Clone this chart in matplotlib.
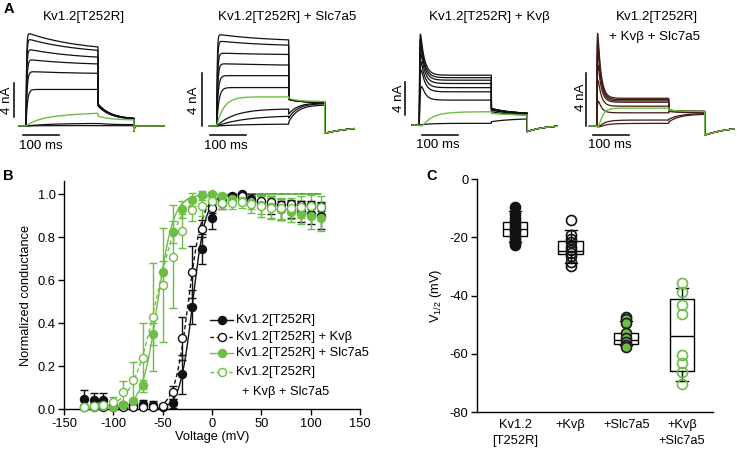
import numpy as np
import matplotlib

matplotlib.use("Agg")
import matplotlib.pyplot as plt

plt.rcParams["font.family"] = ["Liberation Sans", "DejaVu Sans"]
plt.rcParams["mathtext.default"] = "regular"
plt.rcParams["axes.linewidth"] = 1.0
plt.rcParams["axes.unicode_minus"] = False

W, H = 737, 449
BLACK = "#111111"
GREEN = "#6DBE45"
BROWN = "#3e1a13"

# ---------------- panel A: current traces (nA), protocol 200 ms step + 100 ms tail
PULSE = 200.0
TAIL = 100.0

TITLES_A = ["Kv1.2[T252R]", "Kv1.2[T252R] + Slc7a5", "Kv1.2[T252R] + Kv\u03b2", "Kv1.2[T252R]\n+ Kv\u03b2 + Slc7a5"]

# Kv1.2[T252R]
PEAK1 = [10.9, 10.2, 9.0, 7.8, 6.4, 4.3, 1.1, 0.25, 0.05]
END1 = [9.3, 8.9, 8.1, 7.3, 6.2, 4.3, 1.5, 0.3, 0.05]
ACT1 = [1.5, 1.8, 2.0, 2.5, 3.0, 4.0, 25, 40, 40]
TAIL0_1 = [2.6, 2.6, 2.55, 2.5, 2.45, 2.35, 1.15, 0.3, 0.05]
TAIL1_1 = [0.8, 0.8, 0.8, 0.78, 0.76, 0.74, 0.7, 0.15, 0.03]

# + Slc7a5
PEAK2 = [6.9, 6.4, 5.5, 4.7, 3.8, 2.9, 2.2, 1.3, 0.8, 0.15]
END2 = [6.5, 6.1, 5.4, 4.6, 3.8, 2.9, 2.2, 1.3, 0.8, 0.15]
ACT2 = [1.5, 2.0, 2.5, 3.0, 4.0, 6.0, 20, 50, 80, 80]
TAIL0_2 = [2.05, 2.05, 2.05, 2.05, 2.0, 2.0, 2.1, 0.9, 0.6, 0.3]
TAIL1_2 = [1.8, 1.8, 1.8, 1.8, 1.8, 1.8, 1.85, 1.75, 1.7, 1.6]

# + Kvbeta
PEAK3 = [11.3, 10.6, 9.8, 9.0, 8.0, 7.0, 5.0, 1.2, 0.2]
END3 = [6.0, 5.7, 5.4, 5.0, 4.5, 4.0, 3.0, 1.6, 0.2]
ACT3 = [1.0, 1.0, 1.2, 1.3, 1.5, 1.8, 2.5, 35, 30]
TAIL0_3 = [2.0, 2.0, 1.95, 1.9, 1.85, 1.8, 1.6, 1.4, 0.4]
TAIL1_3 = [1.3, 1.3, 1.3, 1.3, 1.25, 1.2, 1.1, 1.15, 0.8]

# + Kvbeta + Slc7a5
PEAK4 = [7.2, 6.6, 5.8, 4.8, 3.6, 2.0, 0.8, 0.3, 0.1]
END4 = [2.1, 2.0, 1.9, 1.8, 1.5, 1.0, 1.35, 0.45, 0.2]
ACT4 = [1.0, 1.0, 1.2, 1.3, 1.5, 2.0, 10, 20, 30]
TAIL0_4 = [1.2, 1.2, 1.2, 1.2, 1.15, 1.1, 1.2, 0.5, 0.3]
TAIL1_4 = [1.1, 1.1, 1.1, 1.1, 1.05, 1.0, 1.1, 0.95, 0.9]

GREEN_SWEEP = [6, 6, 7, 6]
TAU_DEC = [150, 150, 11, 9]
TAU_TAIL = [35, 25, 60, 30]
AFTER = [-0.6, -0.55, -0.8, -0.7]
TAU_AFTER = [1.5, 80, 50, 70]

# ---------------- panel B: G-V
VOLT = [-130, -120, -110, -100, -90, -80, -70, -60, -50, -40, -30, -20, -10,
        0, 10, 20, 30, 40, 50, 60, 70, 80, 90, 100, 110]
G_WT = [0.05, 0.045, 0.045, 0.02, 0.02, 0.02, 0.025, 0.02, 0.01, 0.028, 0.163, 0.475, 0.745,
        0.89, 0.96, 0.99, 1.0, 0.98, 0.965, 0.95, 0.93, 0.93, 0.92, 0.91, 0.90]
E_WT = [0.04, 0.03, 0.03, 0.01, 0.01, 0.01, 0.02, 0.02, 0.01, 0.02, 0.09, 0.08, 0.07,
        0.05, 0.03, 0.01, 0.01, 0.02, 0.03, 0.04, 0.05, 0.04, 0.05, 0.05, 0.06]
G_KVB = [0.01, 0.01, 0.01, 0.01, 0.01, 0.01, 0.01, 0.01, 0.015, 0.08, 0.33, 0.64, 0.84,
         0.935, 0.97, 0.985, 0.99, 0.97, 0.97, 0.965, 0.95, 0.955, 0.95, 0.95, 0.943]
E_KVB = [0.01, 0.01, 0.01, 0.01, 0.01, 0.01, 0.01, 0.01, 0.01, 0.03, 0.1, 0.12, 0.04,
         0.02, 0.02, 0.01, 0.01, 0.02, 0.02, 0.02, 0.02, 0.02, 0.02, 0.02, 0.02]
G_SLC = [0.01, 0.01, 0.015, 0.01, 0.02, 0.04, 0.115, 0.35, 0.64, 0.825, 0.93, 0.975, 0.995,
         1.0, 0.99, 0.98, 0.97, 0.96, 0.95, 0.94, 0.93, 0.92, 0.91, 0.90, 0.89]
E_SLC = [0.01, 0.01, 0.01, 0.01, 0.01, 0.01, 0.02, 0.05, 0.05, 0.05, 0.04, 0.03, 0.02,
         0.01, 0.01, 0.02, 0.02, 0.03, 0.04, 0.05, 0.05, 0.05, 0.05, 0.06, 0.06]
G_BOTH = [0.012, 0.015, 0.02, 0.035, 0.08, 0.137, 0.24, 0.43, 0.578, 0.71, 0.83, 0.927, 0.947,
          0.97, 0.96, 0.96, 0.965, 0.955, 0.945, 0.935, 0.935, 0.935, 0.94, 0.945, 0.94]
E_BOTH = [0.01, 0.01, 0.01, 0.02, 0.05, 0.085, 0.16, 0.25, 0.265, 0.24, 0.08, 0.05, 0.05,
          0.03, 0.03, 0.03, 0.03, 0.04, 0.05, 0.05, 0.05, 0.05, 0.05, 0.05, 0.05]

# Boltzmann fits: V1/2 (mV), slope k (mV), start of drawn curve (mV)
FIT_VHALF = [-19.5, -24, -55, -57]
FIT_K = [6.5, 7, 8, 12]
FIT_START = [-55, -60, -95, -115]

LEGEND_B = ["Kv1.2[T252R]", "Kv1.2[T252R] + Kv\u03b2", "Kv1.2[T252R] + Slc7a5", "Kv1.2[T252R]"]

# ---------------- panel C: V1/2 (mV)
CATS_C = ["Kv1.2\n[T252R]", "+Kv\u03b2", "+Slc7a5", "+Kv\u03b2\n+Slc7a5"]
V_WT = [-9.5, -12, -13.5, -14.5, -15.5, -16.5, -17.5, -18, -19, -20, -21, -22, -22.5]
V_KVB = [-14.1, -19.2, -20.5, -21.5, -23.2, -24.3, -25.5, -26.5, -28.5, -30]
V_SLC = [-47.2, -48, -49.5, -52.9, -54.6, -55.8, -56.9, -57.5]
V_BOTH = [-35.8, -38.6, -43.2, -46.3, -60.3, -63.2, -66.1, -70.4]
BOX_MED = [-17.3, -24.6, -55.2, -53.7]
BOX_Q1 = [-19.5, -25.8, -56.7, -65.7]
BOX_Q3 = [-14.6, -21.3, -52.9, -41.3]
WHIS_LO = [-21.5, -28.7, -57.0, -69.3]
WHIS_HI = [-11.0, -17.5, -48.7, -37.3]


def px_axes(fig, x0, y0, x1, y1):
    return fig.add_axes([x0 / W, 1 - y1 / H, (x1 - x0) / W, (y1 - y0) / H])


def ptext(fig, x, y, s, **kw):
    kw.setdefault("ha", "center")
    kw.setdefault("va", "center")
    kw.setdefault("fontsize", 9.6)
    fig.text(x / W, 1 - y / H, s, **kw)


def sweep(t, peak, end, tau_act, tau_dec, tail0, tail1, tau_tail, after, tau_after):
    i = np.zeros_like(t)
    m = (t >= 0) & (t < PULSE)
    tp = t[m]
    act = 1 - np.exp(-tp / tau_act)
    w = (np.exp(-tp / tau_dec) - np.exp(-PULSE / tau_dec)) / (1 - np.exp(-PULSE / tau_dec))
    comp = act * w
    if comp.max() > 0:
        comp = comp / comp.max()
    i[m] = act * end + (peak - end) * comp
    m = (t >= PULSE) & (t < PULSE + TAIL)
    tt = t[m] - PULSE
    i[m] = tail1 + (tail0 - tail1) * np.exp(-tt / tau_tail)
    m = t >= PULSE + TAIL
    i[m] = after * np.exp(-(t[m] - PULSE - TAIL) / tau_after)
    return i


fig = plt.figure(figsize=(W / 100, H / 100), dpi=100)

# ---------- panel A
S = 0.36  # px per ms
A_PANELS = [
    dict(x0=26.0, yb=126.0, a=8.5, peak=PEAK1, end=END1, act=ACT1, t0=TAIL0_1, t1=TAIL1_1, col=BLACK,
         vbar=(-33, 1.06), hbar=(-8, -1.06), nalab=(7, 100), mslab=(41, 146), title=(84, 17)),
    dict(x0=216.7, yb=126.0, a=13.25, peak=PEAK2, end=END2, act=ACT2, t0=TAIL0_2, t1=TAIL1_2, col=BLACK,
         vbar=(-41, 0.0), hbar=(-19, -0.68), nalab=(194, 100), mslab=(226, 146), title=(287, 17)),
    dict(x0=419.3, yb=125.0, a=8.3, peak=PEAK3, end=END3, act=ACT3, t0=TAIL0_3, t1=TAIL1_3, col=BLACK,
         vbar=(-40, 1.2), hbar=(7, -1.2), nalab=(399, 98), mslab=(438, 145), title=(489, 17)),
    dict(x0=596.7, yb=126.0, a=13.2, peak=PEAK4, end=END4, act=ACT4, t0=TAIL0_4, t1=TAIL1_4, col=BROWN,
         vbar=(-30, 0.0), hbar=(-9, -0.68), nalab=(581, 97), mslab=(610, 145), title=(657, 17)),
]

t = np.linspace(-20, 385, 3000)
for k, p in enumerate(A_PANELS):
    ytop, ybot = 25.0, 160.0
    ax = px_axes(fig, p["x0"] - 50 * S, ytop, p["x0"] + 385 * S, ybot)
    ax.set_xlim(-50, 385)
    ax.set_ylim((p["yb"] - ybot) / p["a"], (p["yb"] - ytop) / p["a"])
    ax.axis("off")
    g = GREEN_SWEEP[k]
    for j in range(len(p["peak"])):
        if j == g:
            continue
        y = sweep(t, p["peak"][j], p["end"][j], p["act"][j], TAU_DEC[k], p["t0"][j], p["t1"][j],
                  TAU_TAIL[k], AFTER[k], TAU_AFTER[k])
        ax.plot(t, y, color=p["col"], lw=0.9, zorder=2)
    y = sweep(t, p["peak"][g], p["end"][g], p["act"][g], TAU_DEC[k], p["t0"][g], p["t1"][g],
              TAU_TAIL[k], AFTER[k], TAU_AFTER[k])
    ax.plot(t, y, color=GREEN, lw=1.0, zorder=3)
    # scale bars
    vx, vy = p["vbar"]
    ax.plot([vx, vx], [vy, vy + 4], color="black", lw=1.1, clip_on=False)
    hx, hy = p["hbar"]
    ax.plot([hx, hx + 100], [hy, hy], color="black", lw=1.1, clip_on=False)
    ptext(fig, *p["nalab"], "4 nA", rotation=90)
    ptext(fig, *p["mslab"], "100 ms")
    if k < 3:
        ptext(fig, *p["title"], TITLES_A[k])
    else:
        l1, l2 = TITLES_A[k].split("\n")
        ptext(fig, 657, 17, l1)
        ptext(fig, 655, 37, l2)

ptext(fig, 9, 9, "A", fontweight="bold", fontsize=10.5)
ptext(fig, 8, 176, "B", fontweight="bold", fontsize=10.5)
ptext(fig, 432, 176, "C", fontweight="bold", fontsize=10.5)

# ---------- panel B
axb = px_axes(fig, 64, 181.4, 360, 409.3)
axb.set_xlim(-150, 150)
axb.set_ylim(0, 1.06)
for s in ["top", "right"]:
    axb.spines[s].set_visible(False)
axb.set_xticks([-150, -100, -50, 0, 50, 100, 150])
axb.set_yticks([0.0, 0.2, 0.4, 0.6, 0.8, 1.0])
axb.set_yticklabels([f"{v:.1f}" for v in [0.0, 0.2, 0.4, 0.6, 0.8, 1.0]])
axb.tick_params(labelsize=9.3, length=4, width=1, pad=2)
axb.set_xlabel("Voltage (mV)", fontsize=9.3, labelpad=1)
axb.set_ylabel("Normalized conductance", fontsize=9.3, labelpad=4)

series = [
    (G_WT, E_WT, BLACK, BLACK, "-"),
    (G_KVB, E_KVB, BLACK, "white", "--"),
    (G_SLC, E_SLC, GREEN, GREEN, "-"),
    (G_BOTH, E_BOTH, GREEN, "white", "--"),
]
v = np.array(VOLT)
for n, (gv, ev, ec, fc, ls) in enumerate(series):
    vv = np.linspace(FIT_START[n], 110, 300)
    fit = 1 / (1 + np.exp((FIT_VHALF[n] - vv) / FIT_K[n]))
    axb.plot(vv, fit, color=ec, lw=1.0, ls=ls, dashes=(3, 2) if ls == "--" else (None, None), zorder=2)
    axb.errorbar(v, gv, yerr=ev, fmt="none", ecolor=ec, elinewidth=1, capsize=2.8, capthick=1,
                 zorder=3, clip_on=False)
    axb.plot(v, gv, ls="none", marker="o", ms=5.8, mfc=fc, mec=ec, mew=1.0, zorder=4 + n, clip_on=False)

# manual legend (data coords of panel B)
LEG_Y = [0.415, 0.338, 0.26, 0.175]
for n, (gv, ev, ec, fc, ls) in enumerate(series):
    axb.plot([-2, 21.3], [LEG_Y[n], LEG_Y[n]], color=ec, lw=1.0, ls=ls,
             dashes=(2.5, 2) if ls == "--" else (None, None), zorder=5, clip_on=False)
    axb.plot([9.8], [LEG_Y[n]], marker="o", ms=5.8, mfc=fc, mec=ec, mew=1.0, zorder=6, clip_on=False)
    axb.text(24.3, LEG_Y[n], LEGEND_B[n], fontsize=9.3, va="center", ha="left")
axb.text(30.1, 0.082, "+ Kv\u03b2 + Slc7a5", fontsize=9.3, va="center", ha="left")

# ---------- panel C
axc = px_axes(fig, 476.7, 179, 713, 412.3)
axc.set_xlim(0.31, 4.56)
axc.set_ylim(-80, 0)
for s in ["top", "right"]:
    axc.spines[s].set_visible(False)

stats = []
for i in range(4):
    stats.append(dict(med=BOX_MED[i], q1=BOX_Q1[i], q3=BOX_Q3[i],
                      whislo=WHIS_LO[i], whishi=WHIS_HI[i], fliers=[]))
axc.bxp(stats, positions=[1, 2, 3, 4], widths=0.44, showfliers=False, patch_artist=True,
        manage_ticks=False,
        boxprops=dict(facecolor="white", edgecolor="black", linewidth=1.0),
        medianprops=dict(color="black", linewidth=1.0),
        whiskerprops=dict(color="black", linewidth=1.0),
        capprops=dict(color="black", linewidth=1.0), capwidths=0.22, zorder=2)

dots = [(V_WT, BLACK, BLACK), (V_KVB, BLACK, "none"), (V_SLC, "#1a1a1a", GREEN), (V_BOTH, GREEN, "none")]
for i, (vals, ec, fc) in enumerate(dots):
    axc.plot([i + 1] * len(vals), vals, ls="none", marker="o", ms=7.2, mfc=fc, mec=ec,
             mew=1.2, zorder=3, clip_on=False)

axc.set_xlim(0.31, 4.56)
axc.set_yticks([0, -20, -40, -60, -80])
axc.set_xticks([1, 2, 3, 4])
axc.set_xticklabels(CATS_C, fontsize=9.3, linespacing=1.45)
axc.tick_params(axis="x", length=0, pad=5)
axc.tick_params(axis="y", labelsize=9.3, length=4, width=1, pad=2)
axc.set_ylabel("V$_{1/2}$ (mV)", fontsize=9.3, labelpad=4)

fig.savefig("out.png", dpi=100)
